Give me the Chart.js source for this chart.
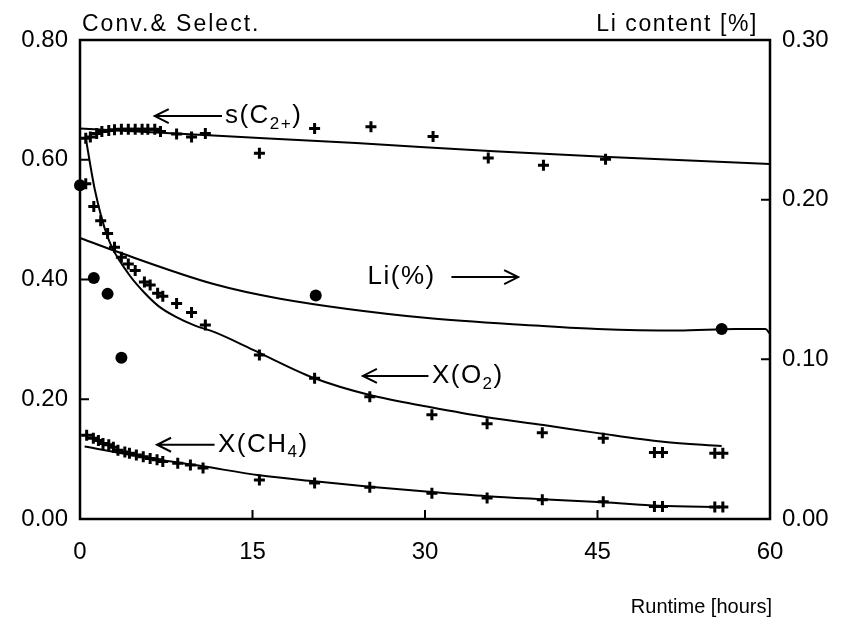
<!DOCTYPE html>
<html><head><meta charset="utf-8">
<script src="https://cdn.jsdelivr.net/npm/chart.js@4/dist/chart.umd.min.js"></script>
<style>html,body{margin:0;padding:0;background:#fff}#wrap{position:relative;width:844px;height:623px}</style>
</head><body><div id="wrap"><canvas id="c" width="844" height="623"></canvas></div>
<script>
// ---- axis ticks ----
const xTicks = [0, 15, 30, 45, 60];
const leftTicks = [0, 0.2, 0.4, 0.6, 0.8];
const rightTicks = [0, 0.1, 0.2, 0.3];

// ---- s(C2+) selectivity (left axis) ----
const sHours  = [0.5,0.9,1.45,1.9,2.5,3.0,3.6,4.2,4.8,5.4,5.9,6.5,7.0,8.4,9.7,10.9,15.6,20.4,25.3,30.7,35.5,40.3,45.7];
const sValues = [0.636,0.638,0.644,0.647,0.649,0.650,0.651,0.651,0.651,0.651,0.651,0.651,0.647,0.643,0.638,0.644,0.611,0.652,0.655,0.639,0.603,0.591,0.601];
const sFitHours  = [0,12,24,36,48,60];
const sFitValues = [0.652,0.640,0.628,0.614,0.603,0.593];

// ---- X(O2) conversion (left axis) ----
const o2Hours  = [0.5,1.2,1.8,2.4,3.0,3.6,4.2,4.8,5.6,6.1,6.75,7.2,8.4,9.7,10.9,15.6,20.4,25.2,30.6,35.4,40.2,45.5,49.95,50.65,55.2,55.9];
const o2Values = [0.560,0.522,0.498,0.477,0.454,0.437,0.426,0.415,0.396,0.391,0.377,0.372,0.360,0.345,0.324,0.274,0.235,0.204,0.174,0.159,0.144,0.135,0.111,0.111,0.110,0.110];
const o2FitHours  = [0.5,1.3,2.4,4.2,5.4,6.8,8.3,10,11.7,15,20.4,25.2,30.4,35.4,40.3,45.2,50.7,55.8];
const o2FitValues = [0.636,0.549,0.471,0.410,0.382,0.356,0.338,0.323,0.312,0.283,0.235,0.207,0.187,0.170,0.157,0.143,0.129,0.122];

// ---- X(CH4) conversion (left axis) ----
const ch4Hours  = [0.58,1.16,1.6,2.0,2.5,2.9,3.3,3.9,4.3,4.9,5.5,6.1,6.7,7.2,8.5,9.6,10.7,15.6,20.4,25.2,30.6,35.4,40.2,45.5,49.95,50.65,55.2,55.9];
const ch4Values = [0.140,0.135,0.131,0.126,0.124,0.120,0.115,0.112,0.110,0.107,0.104,0.101,0.099,0.096,0.093,0.090,0.085,0.065,0.060,0.053,0.043,0.035,0.032,0.029,0.021,0.021,0.020,0.020];
const ch4FitHours  = [0.4,5,10.7,15.6,20.4,25.2,30.6,35.4,40.2,45.5,50.3,55.9];
const ch4FitValues = [0.121,0.105,0.088,0.073,0.063,0.054,0.045,0.038,0.033,0.028,0.022,0.020];

// ---- Li content (right axis) ----
const liHours  = [0,1.2,2.4,3.6,20.5,55.8];
const liValues = [0.209,0.151,0.141,0.101,0.140,0.119];
const liFitHours  = [0,3,11.7,17.4,30,40,45,52,57,59.6,60];
const liFitValues = [0.176,0.168,0.147,0.138,0.126,0.121,0.119,0.118,0.119,0.119,0.116];

const FONT = "'Liberation Sans', Arial, sans-serif";
const pts = (xs, ys) => xs.map((x, i) => ({x: x, y: ys[i]}));

function crossSet(xs, ys, axis) {
  return {type:'scatter', data: pts(xs, ys), yAxisID: axis, showLine:false, clip:false,
    pointStyle:'cross', pointRadius:5.5, pointBorderWidth:3, borderColor:'#000', backgroundColor:'#000'};
}
function dotSet(xs, ys, axis) {
  return {type:'scatter', data: pts(xs, ys), yAxisID: axis, showLine:false, clip:false,
    pointStyle:'circle', pointRadius:6, borderColor:'#000', backgroundColor:'#000', pointBorderWidth:0};
}
function fitSet(xs, ys, axis) {
  return {type:'line', data: pts(xs, ys), yAxisID: axis, showLine:true, clip:false,
    borderColor:'#000', borderWidth:2, pointRadius:0, fill:false, cubicInterpolationMode:'monotone'};
}

// labels: [parts, x(hours), y(left value), arrow {from,to,head}]
const annotations = [
  {parts:[['s(C'],['2+',1],[')']], x:12.6, y:0.673, arrow:{x1:6.5, x2:12.35, head:'left'}},
  {parts:[['Li(%)']], x:25.0, y:0.404, arrow:{x1:32.3, x2:38.1, head:'right'}},
  {parts:[['X(O'],['2',1],[')']], x:30.6, y:0.239, arrow:{x1:24.6, x2:30.3, head:'left'}},
  {parts:[['X(CH'],['4',1],[')']], x:12.0, y:0.124, arrow:{x1:6.7, x2:11.7, head:'left'}}
];

const framePlugin = {
  id:'frame',
  afterDraw(chart) {
    const {ctx, chartArea:a, scales} = chart;
    ctx.save();
    ctx.strokeStyle = '#000';
    ctx.lineWidth = 2.5;
    ctx.strokeRect(a.left, a.top, a.right - a.left, a.bottom - a.top);
    ctx.lineWidth = 2;
    const L = 9;
    ctx.beginPath();
    leftTicks.slice(1, -1).forEach(v => { const y = scales.y.getPixelForValue(v); ctx.moveTo(a.left, y); ctx.lineTo(a.left + L, y); });
    rightTicks.slice(1, -1).forEach(v => { const y = scales.y2.getPixelForValue(v); ctx.moveTo(a.right, y); ctx.lineTo(a.right - L, y); });
    xTicks.slice(1, -1).forEach(v => { const x = scales.x.getPixelForValue(v); ctx.moveTo(x, a.bottom); ctx.lineTo(x, a.bottom - L); });
    ctx.stroke();

    // axis titles
    ctx.fillStyle = '#000';
    ctx.font = '23px ' + FONT;
    ctx.textBaseline = 'alphabetic';
    ctx.textAlign = 'left';
    ctx.letterSpacing = '2px';
    ctx.fillText('Conv.& Select.', a.left + 2, 31);
    ctx.textAlign = 'right';
    ctx.letterSpacing = '1.6px';
    ctx.fillText('Li content [%]', a.right - 12, 31);
    ctx.letterSpacing = '0px';
    ctx.font = '20px ' + FONT;
    ctx.fillText('Runtime [hours]', a.right + 2, 613);

    // annotations
    ctx.lineWidth = 2;
    ctx.letterSpacing = '1.5px';
    annotations.forEach(an => {
      const y = scales.y.getPixelForValue(an.y);
      let x = scales.x.getPixelForValue(an.x);
      ctx.textAlign = 'left';
      ctx.textBaseline = 'middle';
      an.parts.forEach(p => {
        if (p[1]) {
          ctx.font = '17px ' + FONT;
          ctx.fillText(p[0], x, y + 8);
        } else {
          ctx.font = '26px ' + FONT;
          ctx.fillText(p[0], x, y);
        }
        x += ctx.measureText(p[0]).width;
      });
      const x1 = scales.x.getPixelForValue(an.arrow.x1), x2 = scales.x.getPixelForValue(an.arrow.x2);
      ctx.beginPath();
      ctx.moveTo(x1, y); ctx.lineTo(x2, y);
      if (an.arrow.head === 'left') {
        ctx.moveTo(x1 + 14, y - 7); ctx.lineTo(x1, y); ctx.lineTo(x1 + 14, y + 7);
      } else {
        ctx.moveTo(x2 - 14, y - 7); ctx.lineTo(x2, y); ctx.lineTo(x2 - 14, y + 7);
      }
      ctx.stroke();
    });
    ctx.restore();
  }
};

const tickFont = {family: FONT, size: 24};

new Chart(document.getElementById('c'), {
  type:'scatter',
  data:{datasets:[
    fitSet(sFitHours, sFitValues, 'y'),
    fitSet(o2FitHours, o2FitValues, 'y'),
    fitSet(ch4FitHours, ch4FitValues, 'y'),
    fitSet(liFitHours, liFitValues, 'y2'),
    crossSet(sHours, sValues, 'y'),
    crossSet(o2Hours, o2Values, 'y'),
    crossSet(ch4Hours, ch4Values, 'y'),
    dotSet(liHours, liValues, 'y2')
  ]},
  options:{
    responsive:false, animation:false, devicePixelRatio:1,
    layout:{padding:{top:40, left:0, right:0, bottom:0}},
    plugins:{legend:{display:false}, tooltip:{enabled:false}},
    scales:{
      x:{type:'linear', min:0, max:60,
        afterBuildTicks:s => { s.ticks = xTicks.map(v => ({value:v})); },
        afterFit:s => { s.height = 104; },
        ticks:{font:tickFont, color:'#000', padding:19, maxRotation:0, callback:v => String(v)},
        grid:{display:false, drawTicks:false}, border:{display:false}},
      y:{type:'linear', position:'left', min:0, max:0.8,
        afterBuildTicks:s => { s.ticks = leftTicks.map(v => ({value:v})); },
        afterFit:s => { s.width = 80; },
        ticks:{font:tickFont, color:'#000', padding:12, callback:v => v.toFixed(2)},
        grid:{display:false, drawTicks:false}, border:{display:false}},
      y2:{type:'linear', position:'right', min:0, max:0.3,
        afterBuildTicks:s => { s.ticks = rightTicks.map(v => ({value:v})); },
        afterFit:s => { s.width = 74; },
        ticks:{font:tickFont, color:'#000', padding:12, callback:v => v.toFixed(2)},
        grid:{display:false, drawTicks:false}, border:{display:false}}
    }
  },
  plugins:[framePlugin]
});
</script>
</body></html>
